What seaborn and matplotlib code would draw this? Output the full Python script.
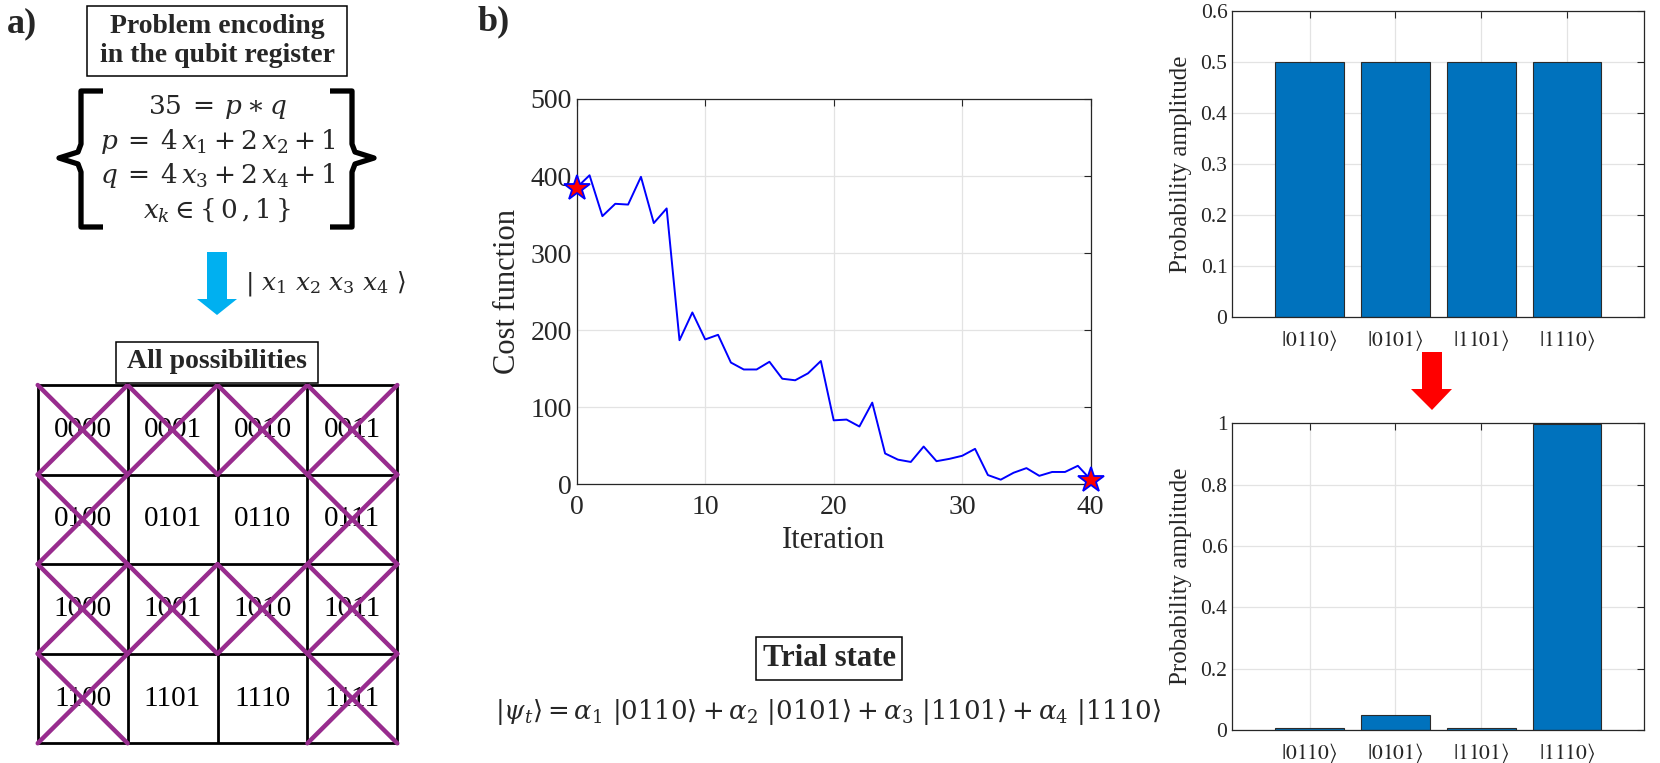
import numpy as np
import pandas as pd
import matplotlib
matplotlib.use("Agg")
import matplotlib.pyplot as plt
import seaborn as sns
from matplotlib.patches import Rectangle, Polygon

# ---------------- data ----------------
iterations = list(range(41))
cost = [385, 401, 348, 364, 363, 399, 339, 358, 187, 223, 188, 194, 158, 149,
        149, 159, 137, 135, 144, 160, 83, 84, 75, 106, 40, 32, 29, 49, 30, 33,
        37, 46, 12, 6, 15, 21, 11, 16, 16, 24, 6]

states = ["0110", "0101", "1101", "1110"]
amp_initial = [0.5, 0.5, 0.5, 0.5]
amp_final = [0.005, 0.048, 0.005, 0.997]

grid_labels = [["0000", "0001", "0010", "0011"],
               ["0100", "0101", "0110", "0111"],
               ["1000", "1001", "1010", "1011"],
               ["1100", "1101", "1110", "1111"]]

x_ticks_cost = [0, 10, 20, 30, 40]
y_ticks_cost = [0, 100, 200, 300, 400, 500]
y_ticks_top = [0, 0.1, 0.2, 0.3, 0.4, 0.5, 0.6]
y_ticks_bot = [0, 0.2, 0.4, 0.6, 0.8, 1.0]

# ---------------- style ----------------
sns.set_style("white")
plt.rcParams["font.family"] = ["Liberation Serif", "DejaVu Serif"]
plt.rcParams["mathtext.fontset"] = "stix"

W, H = 1660, 763
fig = plt.figure(figsize=(W / 100, H / 100), dpi=100)
fig.patch.set_facecolor("white")

DARK = "#262626"
MATHF = "dejavuserif"


def ax_rect(x0, y0, x1, y1):
    return [x0 / W, 1 - y1 / H, (x1 - x0) / W, (y1 - y0) / H]


def matlab_style(ax, fs):
    for s in ax.spines.values():
        s.set_visible(True)
        s.set_color(DARK)
        s.set_linewidth(0.9)
    ax.tick_params(direction="in", top=True, right=True, length=5,
                   width=0.8, colors=DARK, labelsize=fs, labelcolor=DARK)
    ax.grid(True, color="#e3e3e3", linewidth=0.9)
    ax.set_axisbelow(True)


# ---------------- cost function ----------------
axc = fig.add_axes(ax_rect(576.7, 99, 1090.7, 484.3))
sns.lineplot(x=iterations, y=cost, ax=axc, color="#0000FF", linewidth=1.4)
axc.plot([iterations[0], iterations[-1]], [cost[0], cost[-1]], ls="none",
         marker="*", ms=19, mfc="red", mec="blue", mew=1.3, clip_on=False,
         zorder=5)
axc.set_xlim(0, 40)
axc.set_ylim(0, 500)
axc.set_xticks(x_ticks_cost)
axc.set_yticks(y_ticks_cost)
matlab_style(axc, 20)
axc.tick_params(axis="x", pad=8)
axc.set_xlabel("Iteration", fontsize=22, color=DARK, labelpad=4)
axc.set_ylabel("Cost function", fontsize=22, color=DARK, labelpad=6)

# ---------------- bar charts ----------------
state_labels = [r"$|%s\rangle$" % s for s in states]


def bar_panel(rect, amps, yticks, ylim, tick_fmt):
    ax = fig.add_axes(rect)
    df = pd.DataFrame({"state": states, "amp": amps})
    sns.barplot(data=df, x="state", y="amp", ax=ax, color="#0072BD",
                saturation=1, width=0.8, edgecolor="#2b2b2b", linewidth=0.8)
    ax.set_xlim(-0.9, 3.9)
    ax.set_ylim(*ylim)
    ax.set_yticks(yticks)
    ax.set_yticklabels([tick_fmt(v) for v in yticks])
    ax.set_xticks(range(len(states)))
    ax.set_xticklabels(state_labels)
    matlab_style(ax, 15.5)
    ax.tick_params(axis="x", labelsize=15.5, pad=8)
    ax.set_xlabel("")
    ax.set_ylabel("Probability amplitude", fontsize=18, color=DARK, labelpad=6)
    return ax


bar_panel(ax_rect(1232.3, 11, 1644.3, 317.3), amp_initial, y_ticks_top,
          (0, 0.6), lambda v: "0" if v == 0 else ("%.1f" % v))
bar_panel(ax_rect(1232.3, 423.3, 1644.3, 730), amp_final, y_ticks_bot,
          (0, 1.0), lambda v: "%g" % v)

# ---------------- possibilities grid ----------------
axg = fig.add_axes(ax_rect(37.7, 385, 397.3, 743.3))
axg.set_xlim(0, 4)
axg.set_ylim(4, 0)
axg.set_xticks([])
axg.set_yticks([])
for s in axg.spines.values():
    s.set_visible(True)
    s.set_color("black")
    s.set_linewidth(2)
for k in range(1, 4):
    axg.axhline(k, color="black", lw=2)
    axg.axvline(k, color="black", lw=2)
PURPLE = "#982C8E"
for r, row in enumerate(grid_labels):
    for c, lab in enumerate(row):
        axg.text(c + 0.5, r + 0.5, lab, ha="center", va="center",
                 fontsize=21, color="black")
        if lab not in states:
            axg.plot([c, c + 1], [r, r + 1], color=PURPLE, lw=3.2,
                     clip_on=False, solid_capstyle="round", zorder=4)
            axg.plot([c, c + 1], [r + 1, r], color=PURPLE, lw=3.2,
                     clip_on=False, solid_capstyle="round", zorder=4)

# ---------------- overlay annotations ----------------
ov = fig.add_axes([0, 0, 1, 1])
ov.set_xlim(0, W)
ov.set_ylim(H, 0)
ov.axis("off")

ov.text(7, 24, "a)", fontsize=26, fontweight="bold", ha="left", va="center")
ov.text(478, 22, "b)", fontsize=26, fontweight="bold", ha="left", va="center")

# boxed titles
ov.add_patch(Rectangle((87, 6), 260, 70, fc="white", ec="black", lw=1.1))
ov.text(217, 41, "Problem encoding\nin the qubit register", fontsize=20,
        fontweight="bold", ha="center", va="center", linespacing=1.2)
ov.add_patch(Rectangle((116, 342), 202, 41, fc="white", ec="black", lw=1.1,
                       zorder=3))
ov.text(217, 362, "All possibilities", fontsize=20, fontweight="bold",
        ha="center", va="center", zorder=4)
ov.add_patch(Rectangle((756, 637), 146, 43, fc="white", ec="black", lw=1.1))
ov.text(829, 658, "Trial state", fontsize=22, fontweight="bold",
        ha="center", va="center")

# equations of the encoding
eqs = [r"$35\:=\:p \ast q$",
       r"$p\:=\:4\,x_1 + 2\,x_2 + 1$",
       r"$q\:=\:4\,x_3 + 2\,x_4 + 1$",
       r"$x_k \in \{\,0\,,1\,\}$"]
for yy, e in zip([107, 142, 176, 210], eqs):
    ov.text(217.5, yy, e, fontsize=19, ha="center", va="center",
            math_fontfamily=MATHF)

# braces
lb = [(103, 91), (81, 91), (81, 144), (78, 152), (59, 158), (78, 164),
      (81, 172), (81, 227), (103, 227)]
rb = [(330, 91), (352, 91), (352, 144), (355, 152), (374, 158), (355, 164),
      (352, 172), (352, 227), (330, 227)]
for pts in (lb, rb):
    xs, ys = zip(*pts)
    ov.plot(xs, ys, color="black", lw=3.8, solid_joinstyle="round",
            solid_capstyle="butt")

# blue arrow + ket
ov.add_patch(Polygon([(207, 252), (227, 252), (227, 299), (237, 299),
                      (217, 315), (197, 299), (207, 299)],
                     closed=True, fc="#00B0F0", ec="none"))
ov.text(245, 283, r"$|\ x_1\ x_2\ x_3\ x_4\ \rangle$", fontsize=18,
        ha="left", va="center", math_fontfamily=MATHF)

# red arrow between bar charts
ov.add_patch(Polygon([(1422, 352), (1442, 352), (1442, 389), (1452, 389),
                      (1432, 410), (1411, 389), (1422, 389)],
                     closed=True, fc="#FF0000", ec="none"))

# trial state equation
ov.text(828, 712,
        r"$|\psi_t\rangle = \alpha_1\ |0110\rangle + \alpha_2\ |0101\rangle"
        r" + \alpha_3\ |1101\rangle + \alpha_4\ |1110\rangle$",
        fontsize=18.7, ha="center", va="center", math_fontfamily=MATHF)

fig.savefig("out.png", dpi=100)
